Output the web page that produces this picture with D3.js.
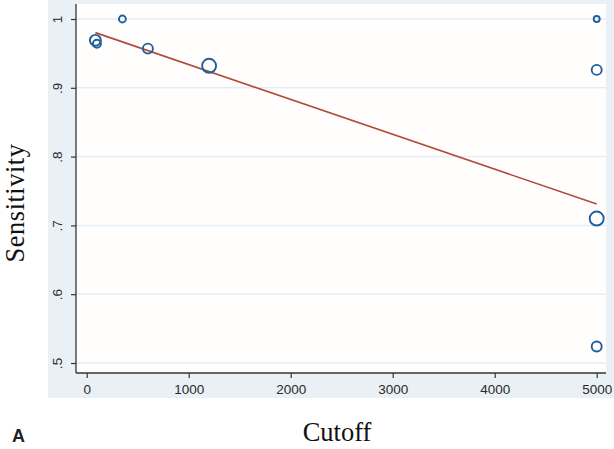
<!DOCTYPE html>
<html>
<head>
<meta charset="utf-8">
<script src="https://cdn.jsdelivr.net/npm/d3@7"></script>
<style>
  body { margin: 0; background: #fff; }
  svg { display: block; }
</style>
</head>
<body>
<svg id="canvas" width="614" height="449"></svg>
<script>
// study points
let cutoff = [350, 85, 100, 600, 1200, 5000, 5000, 5000, 5000]
let sensitivity = [1.0, 0.969, 0.964, 0.957, 0.932, 1.0, 0.926, 0.710, 0.524]
let weight = [12, 30, 16, 25, 49, 9, 25, 49, 25]

// meta-regression line
let fitIntercept = 0.9845
let fitSlope = -0.0000507

let xTicks = [0, 1000, 2000, 3000, 4000, 5000]
let yTicks = [0.5, 0.6, 0.7, 0.8, 0.9, 1]
let yTickLabels = ['.5', '.6', '.7', '.8', '.9', '1']

let svg = d3.select('#canvas')

let xScale = d3.scaleLinear().domain([0, 5000]).range([86.7, 596.7])
let yScale = d3.scaleLinear().domain([0.5, 1]).range([363, 19])
let rScale = d3.scaleSqrt().domain([0, 49]).range([0, 7])

let plotLeft = 76, plotRight = 606, plotTop = 4, plotBottom = 373

// graph region (light blue) and plot region (white)
svg.append('rect')
    .attr('x', 48).attr('y', 0)
    .attr('width', 566).attr('height', 398)
    .attr('fill', '#e9f1f6')
svg.append('rect')
    .attr('x', plotLeft).attr('y', plotTop)
    .attr('width', plotRight - plotLeft).attr('height', plotBottom - plotTop)
    .attr('fill', '#fffefd')

// grid lines
svg.selectAll('.grid')
    .data(yTicks)
    .enter()
    .append('line')
    .attr('class', 'grid')
    .attr('x1', plotLeft)
    .attr('x2', plotRight)
    .attr('y1', (d) => yScale(d))
    .attr('y2', (d) => yScale(d))
    .attr('stroke', '#e3edf5')
    .attr('stroke-width', 1.5)

// axes
let xAxis = d3.axisBottom(xScale)
    .tickValues(xTicks)
    .tickFormat(d3.format('d'))
    .tickSize(5)
    .tickSizeOuter(0)
    .tickPadding(6)
let yAxis = d3.axisLeft(yScale)
    .tickValues(yTicks)
    .tickFormat((d, i) => yTickLabels[i])
    .tickSize(5)
    .tickSizeOuter(0)

let gx = svg.append('g')
    .attr('transform', 'translate(0,' + plotBottom + ')')
    .call(xAxis)
gx.select('.domain').attr('d', 'M' + plotLeft + ',0H' + plotRight)

let gy = svg.append('g')
    .attr('transform', 'translate(' + plotLeft + ',0)')
    .call(yAxis)
gy.select('.domain').attr('d', 'M0,' + plotTop + 'V' + plotBottom)

svg.selectAll('.domain').attr('stroke', '#333').attr('stroke-width', 1.3)
svg.selectAll('.tick line').attr('stroke', '#333').attr('stroke-width', 1.2)
svg.selectAll('.tick text')
    .attr('fill', '#2a2a2a')
    .style('font-family', 'Liberation Sans, Arial, sans-serif')
    .style('font-size', '13.5px')

gy.selectAll('.tick text')
    .attr('transform', 'rotate(-90)')
    .attr('x', 0)
    .attr('y', -14)
    .attr('dy', 0)
    .attr('text-anchor', 'middle')

// regression line
let xMin = d3.min(cutoff), xMax = d3.max(cutoff)
svg.append('line')
    .attr('x1', xScale(xMin))
    .attr('y1', yScale(fitIntercept + fitSlope * xMin))
    .attr('x2', xScale(xMax))
    .attr('y2', yScale(fitIntercept + fitSlope * xMax))
    .attr('stroke', '#b24a3a')
    .attr('stroke-width', 1.6)

// study circles
svg.selectAll('.study')
    .data(cutoff)
    .enter()
    .append('circle')
    .attr('class', 'study')
    .attr('cx', (d) => xScale(d))
    .attr('cy', (d, i) => yScale(sensitivity[i]))
    .attr('r', (d, i) => rScale(weight[i]))
    .attr('fill', 'none')
    .attr('stroke', '#1d5f9f')
    .attr('stroke-width', 1.9)

// axis titles
svg.append('text')
    .text('Cutoff')
    .attr('x', 337)
    .attr('y', 441)
    .attr('text-anchor', 'middle')
    .style('font-family', 'Liberation Serif, Times New Roman, serif')
    .style('font-size', '26.5px')
    .attr('fill', '#111')

svg.append('text')
    .text('Sensitivity')
    .attr('transform', 'translate(24,203) rotate(-90)')
    .attr('text-anchor', 'middle')
    .style('font-family', 'Liberation Serif, Times New Roman, serif')
    .style('font-size', '26.5px')
    .style('letter-spacing', '0.5px')
    .attr('fill', '#111')

svg.append('text')
    .text('A')
    .attr('x', 12)
    .attr('y', 442)
    .style('font-family', 'Liberation Sans, Arial, sans-serif')
    .style('font-size', '18px')
    .style('font-weight', 'bold')
    .attr('fill', '#222')
</script>
</body>
</html>
